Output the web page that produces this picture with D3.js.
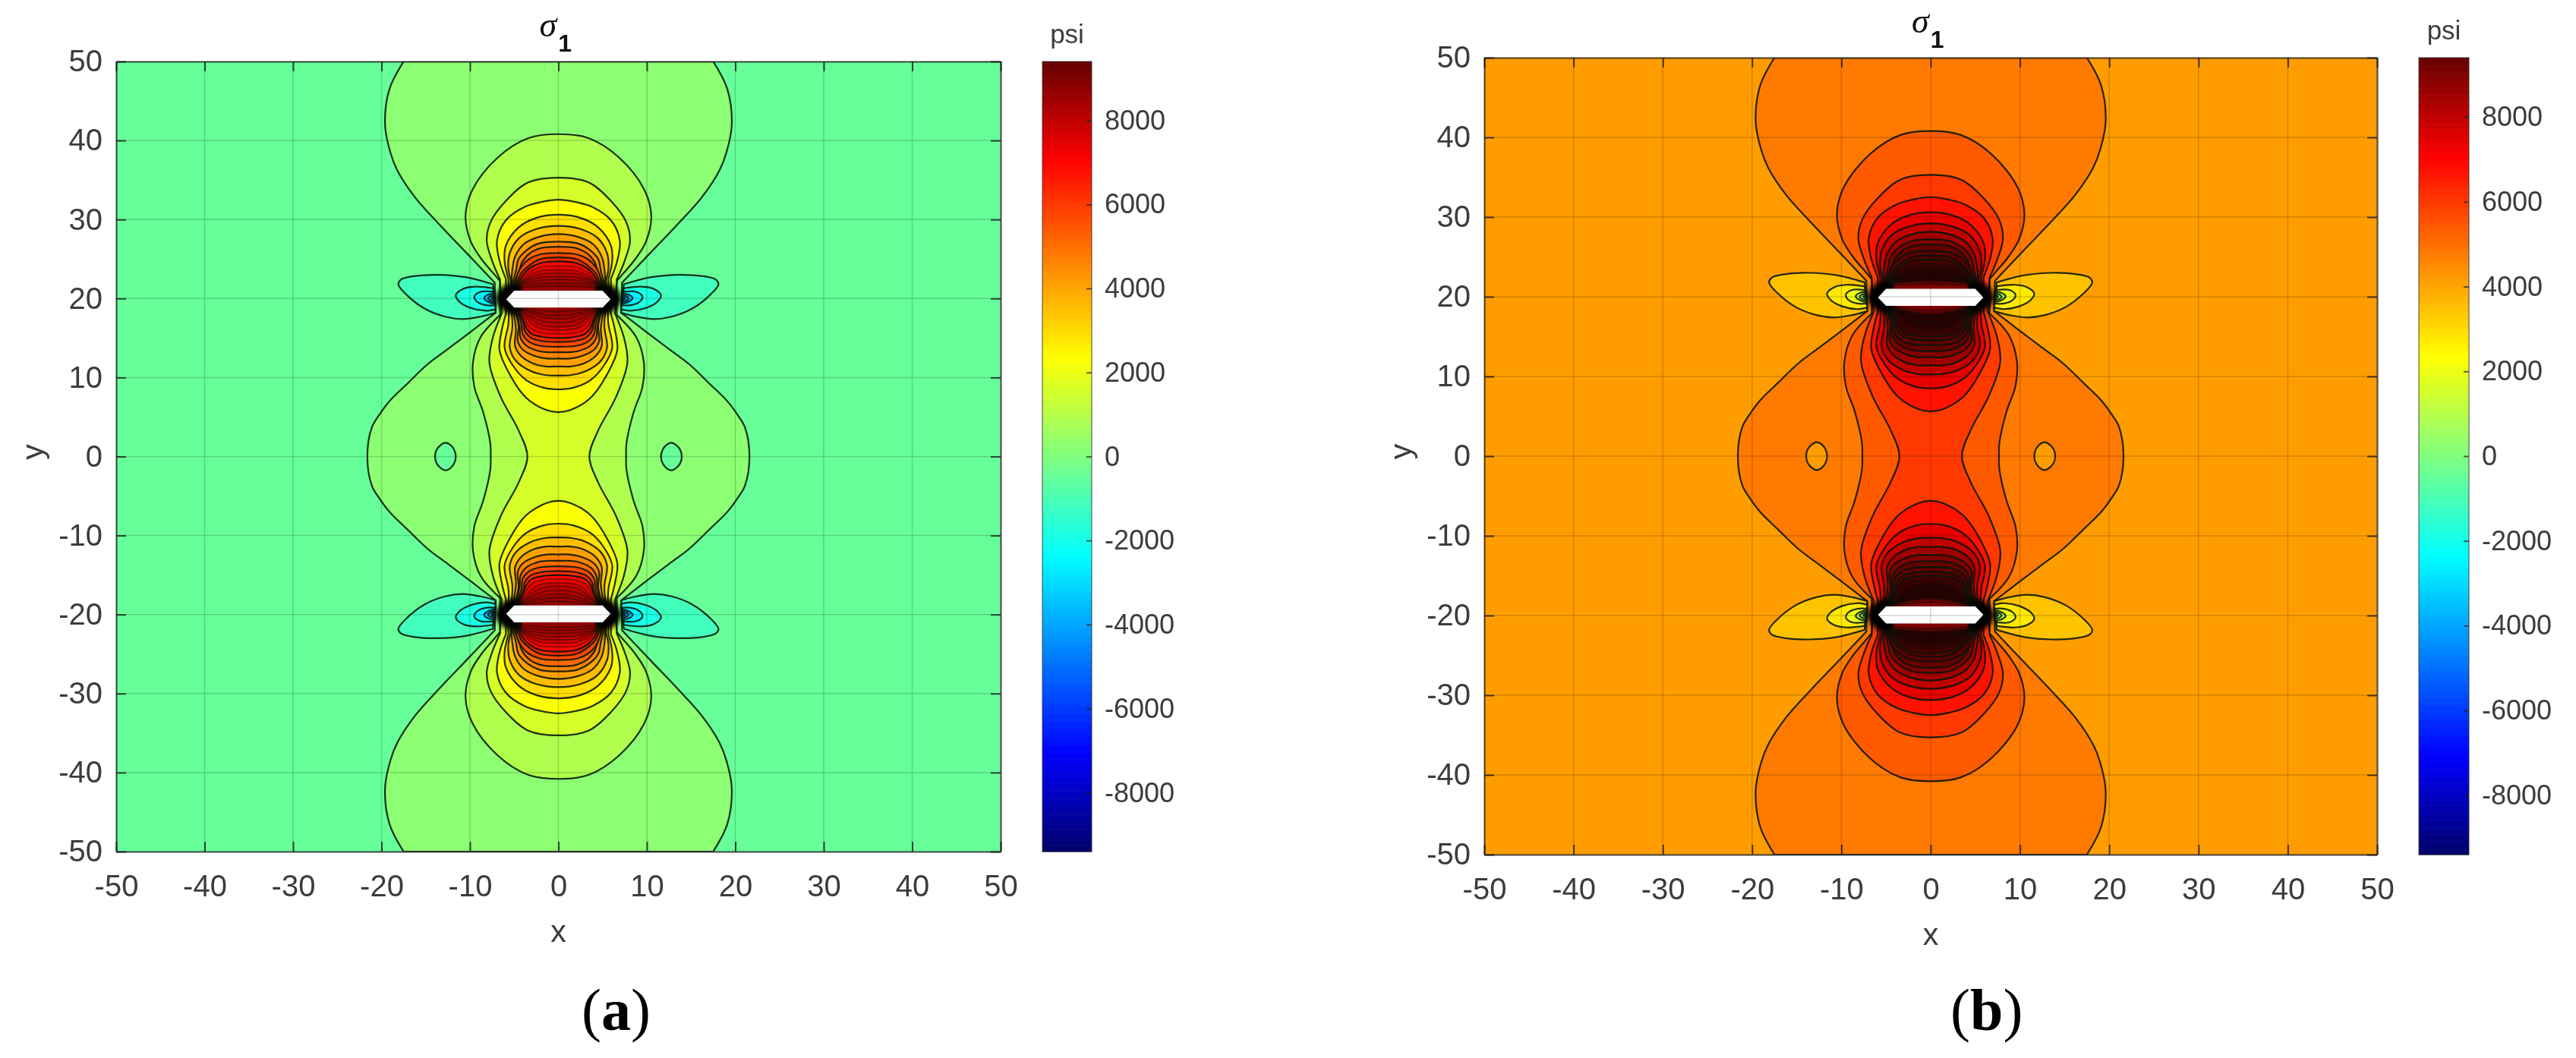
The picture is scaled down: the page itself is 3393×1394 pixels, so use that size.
<!DOCTYPE html>
<html><head><meta charset="utf-8">
<script src="https://cdnjs.cloudflare.com/ajax/libs/d3/7.8.5/d3.min.js"></script>
<style>
html,body{margin:0;padding:0;background:#fff}
svg{display:block;filter:blur(0.7px);font-family:"Liberation Sans",Arial,sans-serif}
</style></head><body>
<svg id="c" width="3393" height="1394"><defs><filter id="soft" x="-30%" y="-30%" width="160%" height="160%"><feGaussianBlur stdDeviation="3"/></filter></defs></svg>
<script>
// ---------- values (x, y in plot units; stress in psi) ----------
const xTicks = [-50,-40,-30,-20,-10,0,10,20,30,40,50];
const yTicks = [-50,-40,-30,-20,-10,0,10,20,30,40,50];
const barTicks = [-8000,-6000,-4000,-2000,0,2000,4000,6000,8000];
const barLimit = 9400;
const jetValues = [-9400,-7050,-2350,2350,7050,9400,11000];
const jetColors = ["#00006a","#0000ff","#00ffff","#ffff00","#ff0000","#660000","#280000"];

const backgroundA = -470;
const backgroundB = 4150;
// band value inside each nested contour, outermost first
const bandsA = [230,900,1600,2300,2950,3550,4100,4600,5100,5700,6300,6900,7400,7800,8100,8300,8450,8600,8700];
const bandsB = [4800,5400,6000,6700,7400,8000,8500,9000,9400,9700,10000,10300,10600,10900,11000,11000,11000,9500,9000];
const lobeBandsA = [-1140,-1840,-2540,-3240,-3940,-4600];
const lobeBandsB = [3450,2750,2050,1350,650,0];

// contour arc above the upper crack, from the plot axis (or plot top) to the crack tip
const ringUpper = [
 [[-17.5,50],[-19.1,46.5],[-19.6,42],[-19,38.5],[-18.2,36.2],[-16.2,32.8],[-13.4,29.3],[-10.5,25.9],[-7.2,22]],
 [[0,40.8],[-3.4,40.3],[-6.8,37.9],[-9.7,33.8],[-10.5,30.4],[-9.9,27.2],[-8.7,25],[-7.2,23],[-6.6,22.2]],
 [[0,35.3],[-3.4,34.7],[-5.9,32.4],[-7.66,29.7],[-8.1,27.3],[-7.5,24.8],[-6.6,22.4]],
 [[0,32.5],[-2,32.2],[-3.8,31.6],[-5.94,29.9],[-6.94,27.35],[-6.66,24.8],[-5.94,22.5]],
 [[0,30.6],[-2.5,30.2],[-4.5,29],[-5.94,26.7],[-6.09,24.8],[-5.66,22.5]],
 [[0,29.2],[-2.5,28.8],[-4.4,27.7],[-5.5,25.75],[-5.66,23.8],[-5.4,22.4]],
 [[0,28.15],[-2.2,27.8],[-3.9,26.9],[-4.9,25.3],[-5.2,23.7],[-5.3,22.3]],
 [[0,27.2],[-2.1,27],[-3.5,26.2],[-4.5,25],[-4.8,23.5],[-5.1,22.3]],
 [[0,26.55],[-1.9,26.4],[-3.2,25.75],[-4.1,24.6],[-4.5,23.3],[-4.9,22.3]],
 [[0,25.75],[-2,25.6],[-3.3,25],[-4.2,24],[-4.65,23],[-4.8,22.3]],
 [[0,25.2],[-2,25],[-3.3,24.2],[-4.2,23.2],[-4.6,22.2]],
 [[0,24.7],[-2,24.5],[-3.3,23.8],[-4,23],[-4.4,22.2]],
 [[0,24.1],[-2,24],[-3.2,23.4],[-3.9,22.7],[-4.3,22.1]],
 [[0,23.6],[-2,23.5],[-3.2,23],[-4.2,22.1]],
 [[0,23.2],[-2,23.1],[-3.1,22.7],[-4.2,22.1]],
 [[0,22.8],[-2,22.7],[-3.2,22.4],[-4.2,22]],
 [[0,22.4],[-2,22.3],[-4.2,21.9]],
 [[0,22],[-2,21.9],[-4.2,21.7]],
 [[0,21.6],[-2,21.55],[-4.2,21.4]]
];
// contour arc below the upper crack, from the crack tip to y=0 (first three) or to x=0
const ringInner = [
 [[-7.1,18.2],[-9.9,15.8],[-12.5,13.6],[-14.8,11.67],[-17.1,9.2],[-19.1,7],[-20.3,5.2],[-21.1,3.66],[-21.6,0]],
 [[-6.6,17.9],[-8.8,15.1],[-9.66,11.9],[-9.5,8.8],[-8.5,5.6],[-7.7,1.7],[-7.65,0]],
 [[-6.4,18.1],[-7.4,15.1],[-7.8,11.9],[-6.5,7.5],[-4.5,3.3],[-3.5,0]],
 [[-5.9,18.2],[-6.4,16],[-6.66,13.5],[-5.7,10.8],[-3.7,7.5],[-1.4,5.9],[0,5.6]],
 [[-5.6,18.2],[-5.66,16.7],[-6.09,13.8],[-5.2,11.6],[-3.66,9.7],[-1.66,8.7],[0,8.5]],
 [[-5.3,18.3],[-5.2,16.4],[-5.5,13.8],[-4.8,12.1],[-3.1,10.8],[-1.4,10.3],[0,10.25]],
 [[-5.1,18.4],[-4.8,16.1],[-4.9,14],[-4.2,12.7],[-2.8,11.75],[-1.4,11.4],[0,11.4]],
 [[-4.9,18.4],[-4.5,16.5],[-4.6,14.6],[-4,13.5],[-2.6,12.7],[-1.3,12.4],[0,12.4]],
 [[-4.8,18.4],[-4.4,16.5],[-4.3,15.1],[-3.7,14.1],[-2.4,13.4],[-1.2,13.2],[0,13.2]],
 [[-4.7,18.5],[-4.2,16.8],[-4.05,15.5],[-3.4,14.6],[-2.2,14.05],[0,13.9]],
 [[-4.6,18.5],[-4,17],[-3.8,15.9],[-3.2,15.1],[-2,14.65],[0,14.5]],
 [[-4.5,18.5],[-3.9,17.1],[-3.6,16.2],[-3,15.5],[-1.9,15.15],[0,15]],
 [[-4.4,18.6],[-3.7,17.2],[-3.3,16.4],[-2.7,15.9],[-1.7,15.6],[0,15.5]],
 [[-4.4,18.6],[-3.5,17.4],[-3,16.8],[-2.4,16.35],[-1.5,16.1],[0,16]],
 [[-4.3,18.6],[-3.2,17.5],[-2.3,16.8],[-1.3,16.5],[0,16.4]],
 [[-4.3,18.6],[-3,17.7],[-2,17.2],[-1.2,17],[0,16.9]],
 [[-4.2,18.7],[-2.8,18],[-1.6,17.6],[0,17.4]],
 [[-4.2,18.7],[-2.5,18.2],[-1.3,17.95],[0,17.85]],
 [[-4.2,18.8],[-2,18.5],[0,18.3]]
];
// low-stress lobes outside the crack tip
const lobes = [
 [[-7.4,21.8],[-10.5,22.7],[-13.6,23],[-16.2,22.85],[-17.8,22.4],[-18.1,21.8],[-17.1,20.4],[-15.1,18.7],[-12.8,17.7],[-10.8,17.4],[-8.8,17.7],[-7.1,18.2]],
 [[-7.4,21.3],[-9.4,21.5],[-10.8,21.2],[-11.6,20.4],[-11.2,19.6],[-9.9,18.8],[-8.2,18.45],[-7.1,18.65]],
 [[-7.4,20.85],[-8.8,20.85],[-9.5,20.25],[-9.2,19.6],[-8.2,19.15],[-7.1,19.15]],
 [[-7.2,20.6],[-7.9,20.5],[-8.4,20.05],[-7.9,19.55],[-7.2,19.35]],
 [[-7.2,20.4],[-7.75,20.25],[-7.95,20],[-7.75,19.75],[-7.2,19.6]],
 [[-7.2,20.2],[-7.55,20],[-7.2,19.8]]
];
// small closed contour at mid height, left side
const oval = [[-13.95,0],[-13.75,0.9],[-13.2,1.55],[-12.77,1.75],[-12.3,1.55],[-11.8,0.9],[-11.6,0],[-11.8,-0.9],[-12.3,-1.55],[-12.77,-1.75],[-13.2,-1.55],[-13.75,-0.9]];
// dense-line region around the left crack tip of the upper crack
const tipBlob = [[-7.1,20.2],[-6.6,21.2],[-5.5,21.9],[-4.5,21.8],[-4.4,21],[-4.4,19],[-4.5,18.1],[-5.5,18],[-6.6,18.8],[-7.1,19.7]];
// the crack itself
const crack = [[-5.9,19.9],[-5,21],[5,21],[5.9,19.9],[5,18.85],[-5,18.85]];

// ---------- helpers ----------
const jet = d3.scaleLinear().domain(jetValues).range(jetColors).clamp(true);
const mX = p => p.map(d=>[-d[0],d[1]]);
const mY = p => p.map(d=>[d[0],-d[1]]);
const rev = p => p.slice().reverse();
const svg = d3.select("#c");

function panel(cfg){
  const x = d3.scaleLinear().domain([-50,50]).range([cfg.left,cfg.right]);
  const y = d3.scaleLinear().domain([-50,50]).range([cfg.bottom,cfg.top]);
  const g = svg.append("g");
  const line = d3.line().x(d=>x(d[0])).y(d=>y(d[1])).curve(d3.curveCatmullRom.alpha(0.5));
  const loop = d3.line().x(d=>x(d[0])).y(d=>y(d[1])).curve(d3.curveCatmullRomClosed.alpha(0.5));
  const poly = d3.line().x(d=>x(d[0])).y(d=>y(d[1]));
  const join = segs => segs.map((s,i)=>{const p=line(s);return i?p.replace(/^M/,"L"):p;}).join("")+"Z";

  const clipId = "clip"+cfg.id;
  g.append("clipPath").attr("id",clipId).append("rect")
    .attr("x",cfg.left).attr("y",cfg.top).attr("width",cfg.right-cfg.left).attr("height",cfg.bottom-cfg.top);
  const plot = g.append("g").attr("clip-path",`url(#${clipId})`);

  plot.append("rect").attr("x",cfg.left).attr("y",cfg.top)
    .attr("width",cfg.right-cfg.left).attr("height",cfg.bottom-cfg.top)
    .attr("fill",jet(cfg.background));

  const contourStyle = (s,level=0) => s.attr("stroke","#04140a")
    .attr("stroke-opacity",level<12?0.88:0.5)
    .attr("stroke-width",level<12?2.2:1.5).attr("stroke-linejoin","round");

  // nested contours
  ringUpper.forEach((U,i)=>{
    const I = ringInner[i];
    const fill = jet(cfg.bands[i]);
    const connected = I[I.length-1][1]===0;
    let paths;
    const closedTop = U[0][0]===0;
    const top = closedTop ? [[...rev(U),...mX(U).slice(1)]] : [rev(U),mX(U)];
    const bot = closedTop ? [[...rev(mY(mX(U))),...mY(U).slice(1)]] : [rev(mY(mX(U))),mY(U)];
    if(connected){
      const midR=[...mX(I),...rev(mY(mX(I))).slice(1)];
      const midL=[...mY(I),...rev(I).slice(1)];
      paths=[join([...top,midR,...bot,midL])];
    }else{
      const under=[...mX(I),...rev(I).slice(1)];
      const d1=join([...top,under]);
      const over=[...rev(mY(mX(U))),...mY(U).slice(1)];
      const under2=[...mY(I),...rev(mY(mX(I))).slice(1)];
      const d2=join([over,under2]);
      paths=[d1,d2];
    }
    paths.forEach(d=>plot.append("path").attr("d",d).attr("fill",fill).call(contourStyle,i));
  });

  // closed small contours holding the background band
  [oval,mX(oval)].forEach(p=>plot.append("path").attr("d",loop(p)).attr("fill",jet(cfg.background)).call(contourStyle));

  // lobes
  lobes.forEach((L,i)=>{
    [L,mX(L),mY(L),mY(mX(L))].forEach(p=>plot.append("path").attr("d",line(p)+"Z").attr("fill",jet(cfg.lobeBands[i])).call(contourStyle));
  });

  // dense tip regions and cracks
  [tipBlob,mX(tipBlob),mY(tipBlob),mY(mX(tipBlob))].forEach(p=>plot.append("path").attr("d",loop(p)).attr("fill","#000").attr("filter","url(#soft)"));
  [crack,mY(crack)].forEach(p=>plot.append("path").attr("d",poly(p)+"Z").attr("fill","#fff"));

  // grid
  const gridTicks = xTicks.slice(1,-1);
  plot.append("g").selectAll("line").data(gridTicks).join("line")
    .attr("x1",d=>x(d)).attr("x2",d=>x(d)).attr("y1",cfg.top).attr("y2",cfg.bottom)
    .attr("stroke","#000").attr("stroke-opacity",0.17).attr("stroke-width",1.5);
  plot.append("g").selectAll("line").data(yTicks.slice(1,-1)).join("line")
    .attr("y1",d=>y(d)).attr("y2",d=>y(d)).attr("x1",cfg.left).attr("x2",cfg.right)
    .attr("stroke","#000").attr("stroke-opacity",0.17).attr("stroke-width",1.5);

  // axes
  const fmt = d=>String(d);
  const styleAxis = a=>{
    a.attr("font-family",null).attr("font-size",null);
    a.selectAll("path.domain").attr("stroke","#1c1c1c").attr("stroke-opacity",0.8).attr("stroke-width",2);
    a.selectAll("line").attr("stroke","#1c1c1c").attr("stroke-opacity",0.8).attr("stroke-width",2);
    a.selectAll("text").attr("font-size",40).attr("fill","#3c3c3c");
  };
  g.append("g").attr("transform",`translate(0,${cfg.bottom})`)
    .call(d3.axisBottom(x).tickValues(xTicks).tickFormat(fmt).tickSizeInner(-13).tickSizeOuter(0).tickPadding(31)).call(styleAxis);
  g.append("g").attr("transform",`translate(${cfg.left},0)`)
    .call(d3.axisLeft(y).tickValues(yTicks).tickFormat(fmt).tickSizeInner(-13).tickSizeOuter(0).tickPadding(18)).call(styleAxis);
  g.append("g").attr("transform",`translate(0,${cfg.top})`)
    .call(d3.axisTop(x).tickValues(xTicks).tickFormat("").tickSizeInner(-13).tickSizeOuter(0)).call(styleAxis);
  g.append("g").attr("transform",`translate(${cfg.right},0)`)
    .call(d3.axisRight(y).tickValues(yTicks).tickFormat("").tickSizeInner(-13).tickSizeOuter(0)).call(styleAxis);

  // axis labels
  const cx=x(0), cy=y(0);
  g.append("text").attr("x",cx).attr("y",cfg.bottom+119).attr("text-anchor","middle")
    .attr("font-size",41).attr("fill","#3c3c3c").text("x");
  g.append("text").attr("transform",`translate(${cfg.left-96},${cy-6}) rotate(-90)`).attr("text-anchor","middle")
    .attr("font-size",41).attr("fill","#3c3c3c").text("y");

  // title
  const t = g.append("text").attr("x",cx-25).attr("y",cfg.top-33).attr("fill","#111");
  t.append("tspan").attr("font-family",'"Liberation Serif"').attr("font-style","italic").attr("font-size",46).text("σ");
  t.append("tspan").attr("dy",20).attr("dx",2).attr("font-family",'"Liberation Sans"').attr("font-weight","bold").attr("font-size",32).text("1");

  // colour bar
  const by = d3.scaleLinear().domain([-barLimit,barLimit]).range([cfg.bottom,cfg.top]);
  const bg = g.append("g");
  const stepV = 40;
  bg.selectAll("rect").data(d3.range(-barLimit,barLimit,stepV)).join("rect")
    .attr("x",cfg.barLeft).attr("width",cfg.barRight-cfg.barLeft)
    .attr("y",d=>by(d+stepV)).attr("height",d=>by(d)-by(d+stepV)+0.6)
    .attr("fill",d=>jet(d+stepV/2));
  const ba = g.append("g").attr("transform",`translate(${cfg.barRight},0)`)
    .call(d3.axisRight(by).tickValues(barTicks).tickFormat(fmt).tickSizeInner(-7).tickSizeOuter(0).tickPadding(17));
  ba.attr("font-family",null).attr("font-size",null);
  ba.selectAll("path.domain").remove();
  ba.selectAll("line").attr("stroke","#222").attr("stroke-opacity",0.7).attr("stroke-width",2);
  ba.selectAll("text").attr("font-size",36).attr("fill","#3c3c3c");
  g.append("rect").attr("x",cfg.barLeft).attr("y",cfg.top).attr("width",cfg.barRight-cfg.barLeft).attr("height",cfg.bottom-cfg.top)
    .attr("fill","none").attr("stroke","#333").attr("stroke-opacity",0.6).attr("stroke-width",1.5);
  g.append("text").attr("x",(cfg.barLeft+cfg.barRight)/2).attr("y",cfg.top-24).attr("text-anchor","middle")
    .attr("font-size",35).attr("fill","#3c3c3c").text("psi");

  // panel letter
  const l = svg.append("text").attr("x",cfg.letterX).attr("y",1357).attr("fill","#000").attr("font-family",'"Liberation Serif"').attr("font-size",78);
  l.append("tspan").text("(");
  l.append("tspan").attr("font-weight","bold").text(cfg.letter);
  l.append("tspan").text(")");
}

panel({id:"a",left:153,right:1318,top:81,bottom:1122,barLeft:1373,barRight:1438,
       background:backgroundA,bands:bandsA,lobeBands:lobeBandsA,letter:"a",letterX:766});
panel({id:"b",left:1955,right:3131,top:76,bottom:1126,barLeft:3186,barRight:3252,
       background:backgroundB,bands:bandsB,lobeBands:lobeBandsB,letter:"b",letterX:2569});
</script>
</body></html>
